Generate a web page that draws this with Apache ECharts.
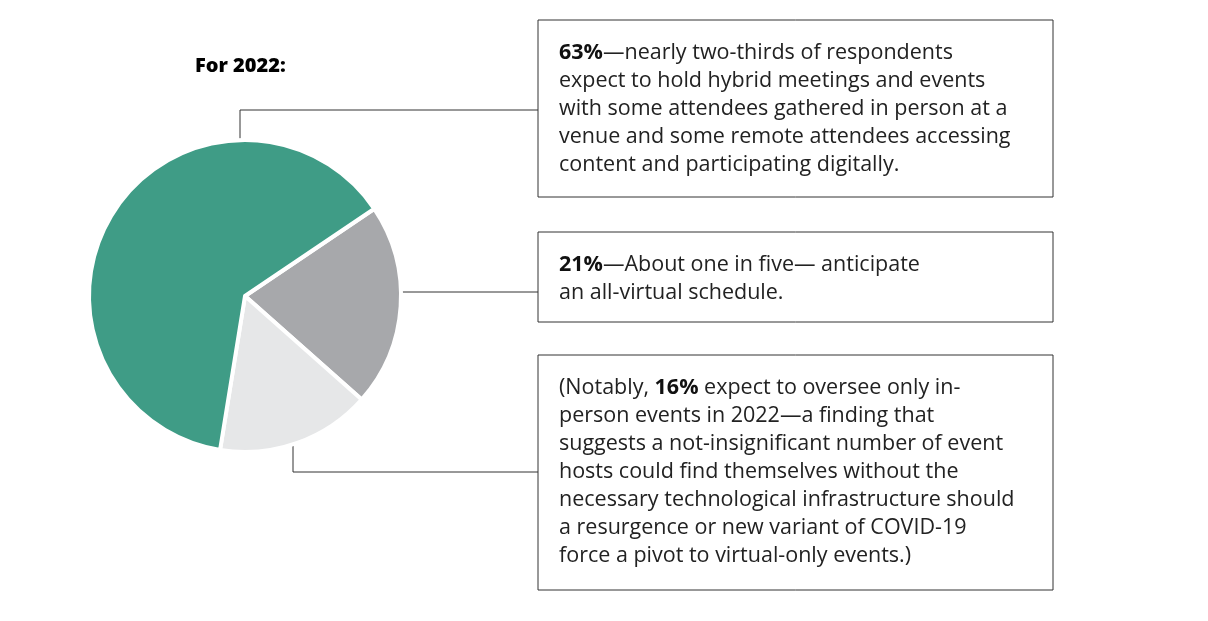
<!DOCTYPE html>
<html><head><meta charset="utf-8">
<script src="https://cdn.jsdelivr.net/npm/echarts@6/dist/echarts.min.js"></script>
<style>html,body{margin:0;background:#fff}#c{width:1208px;height:621px}</style>
</head><body><div id="c"></div>
<script>
const categories = ['All-virtual', 'In-person only', 'Hybrid'];
const values = [21, 16, 63];
const colors = ['#a7a8ab', '#e6e7e8', '#3f9c86'];
const title = 'For 2022:';
const notes = [
  [['b','63%'],['n','—nearly two-thirds of respondents\nexpect to hold hybrid meetings and events\nwith some attendees gathered in person at a\nvenue and some remote attendees accessing\ncontent and participating digitally.']],
  [['b','21%'],['n','—About one in five— anticipate\nan all-virtual schedule.']],
  [['n','(Notably, '],['b','16%'],['n',' expect to oversee only in-\nperson events in 2022—a finding that\nsuggests a not-insignificant number of event\nhosts could find themselves without the\nnecessary technological infrastructure should\na resurgence or new variant of COVID-19\nforce a pivot to virtual-only events.)']]
];
const font = '"Open Sans", "Noto Sans", sans-serif';
const fs = 21.5;
const boxes = [[538,20,515,177],[538,232,515,90],[538,355,515,235]];
const lines = [[[240,140],[240,110],[538,110]],[[400,292],[538,292]],[[293,442],[293,472],[538,472]]];
const g = [];
boxes.forEach((b,i)=>{
  g.push({type:'rect',shape:{x:b[0],y:b[1],width:b[2],height:b[3]},style:{fill:'#fff',stroke:'#333',lineWidth:1}});
  g.push({type:'text',x:b[0]+21,y:b[1]+19,style:{
    text:notes[i].map(p=>p[1].split('\n').map(s=>s?'{'+p[0]+'|'+s+'}':'').join('\n')).join(''),
    rich:{b:{fontFamily:font,fontSize:fs,fontWeight:'bold',fill:'#111',lineHeight:28},n:{fontFamily:font,fontSize:fs,fill:'#222',lineHeight:28}},
    font:fs+'px '+font,lineHeight:28}});
});
lines.forEach(l=>g.push({type:'polyline',shape:{points:l},style:{stroke:'#333',lineWidth:1,fill:null}}));
g.push({type:'text',x:195,y:56,style:{text:title,font:'800 20px '+font,fill:'#000'}});
echarts.init(document.getElementById('c')).setOption({
  animation:false,
  graphic:g,
  series:[{type:'pie',center:[245,296],radius:[0,156],startAngle:34,clockwise:true,
    label:{show:false},labelLine:{show:false},
    itemStyle:{borderColor:'#fff',borderWidth:4},
    data:categories.map((c,i)=>({name:c,value:values[i],itemStyle:{color:colors[i]}}))}]
});
</script></body></html>
